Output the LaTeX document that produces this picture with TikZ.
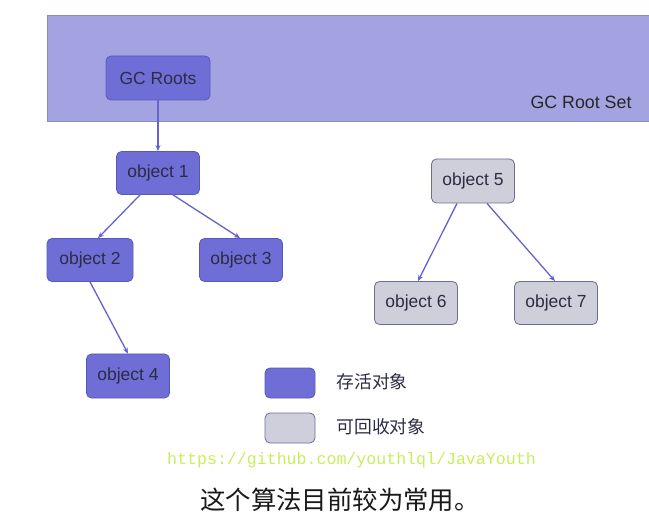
\documentclass[tikz,border=0pt]{standalone}
\usepackage{fontspec}
\setmainfont{Liberation Sans}
\newfontfamily\cjk{Noto Sans CJK SC}
\newfontfamily\urlmono{Liberation Mono}
\usetikzlibrary{arrows.meta}
\definecolor{setfill}{HTML}{A3A3E2}
\definecolor{setdraw}{HTML}{8A8AC8}
\definecolor{livefill}{HTML}{6E6ED6}
\definecolor{livedraw}{HTML}{5858B8}
\definecolor{deadfill}{HTML}{CFCFDB}
\definecolor{deaddraw}{HTML}{6C6C94}
\definecolor{txt}{HTML}{2C2C44}
\definecolor{edge}{HTML}{6464CC}
\definecolor{urlgreen}{HTML}{C8EE5E}
\tikzset{
  livebox/.style={draw=livedraw, fill=livefill, rounded corners=5pt, line width=0.8pt,
    minimum width=83pt, minimum height=43pt, text=txt, font=\fontsize{17.5}{19}\selectfont},
  deadbox/.style={livebox, draw=deaddraw, fill=deadfill},
  link/.style={draw=edge, line width=1.3pt, -{Stealth[length=6pt,width=5pt]}},
  legtxt/.style={anchor=west, text=txt, font=\cjk\fontsize{17.8}{20}\selectfont}
}
\begin{document}
\begin{tikzpicture}[x=1pt,y=-1pt]
\useasboundingbox (0,0) rectangle (649,524);
\fill[white] (0,0) rectangle (649,524);
% root set
\node[draw=setdraw, fill=setfill, line width=0.8pt, minimum width=602pt, minimum height=106pt,
  anchor=north west, inner sep=0pt] (set) at (47,15) {};
\node[anchor=east, text=black!85, font=\fontsize{17.8}{19}\selectfont] (setlbl) at (635,102) {GC Root Set};
\node[livebox, minimum width=104pt, minimum height=44pt] (roots) at (158,78) {GC Roots};
% live objects
\node[livebox] (o1) at (158,173) {object 1};
\node[livebox, minimum width=86pt] (o2) at (90,260) {object 2};
\node[livebox] (o3) at (241,260) {object 3};
\node[livebox, minimum height=44pt] (o4) at (128,376) {object 4};
% dead objects
\node[deadbox, minimum height=44pt] (o5) at (473,181) {object 5};
\node[deadbox] (o6) at (416,303) {object 6};
\node[deadbox] (o7) at (556,303) {object 7};
% links
\draw[link] (roots.south) -- (o1.north);
\draw[link] ([xshift=-18pt]o1.south) -- ([xshift=8pt]o2.north);
\draw[link] ([xshift=15pt]o1.south) -- ([xshift=-1pt]o3.north);
\draw[link] (o2.south) -- (o4.north);
\draw[link] ([xshift=-16pt]o5.south) -- ([xshift=2pt]o6.north);
\draw[link] ([xshift=14pt]o5.south) -- ([xshift=-1pt]o7.north);
% legend
\node[livebox, minimum width=50pt, minimum height=30pt] (leg1) at (290,383) {};
\node[deadbox, minimum width=50pt, minimum height=30pt] (leg2) at (290,428) {};
\node[legtxt] (leg1t) at (333,382) {存活对象};
\node[legtxt] (leg2t) at (333,427) {可回收对象};
% url and caption
\node[anchor=west, text=urlgreen, font=\urlmono\fontsize{16.6}{18}\selectfont, inner sep=0pt] (url) at (167,460) {https://github.com/youthlql/JavaYouth};
\node[anchor=west, text=black!90, font=\cjk\fontsize{25.4}{29}\selectfont, inner sep=0pt] (cap) at (200,500) {这个算法目前较为常用。};
\end{tikzpicture}
\end{document}
